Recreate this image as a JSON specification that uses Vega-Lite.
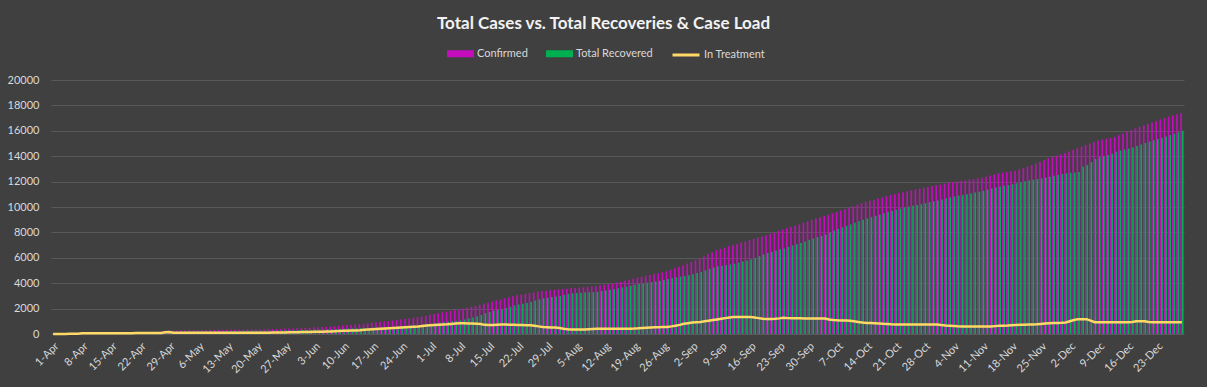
{
"$schema":"https://vega.github.io/schema/vega-lite/v6.json",
"width":1133,"height":254,
"autosize":{"type":"none"},
"padding":{"left":51,"top":80,"right":23,"bottom":53},
"background":"#404040",
"title":{"text":"Total Cases vs. Total Recoveries & Case Load","font":"Lato","fontSize":17,"fontWeight":"bold","color":"#f2f2f2","anchor":"middle","dx":-14,"baseline":"alphabetic","offset":-6},
"config":{"view":{"stroke":null},"font":"Lato"},
"data":{"values":[
{"d":"1-Apr","c":3,"r":0,"t":3},
{"d":"2-Apr","c":5,"r":0,"t":5},
{"d":"3-Apr","c":6,"r":0,"t":6},
{"d":"4-Apr","c":8,"r":0,"t":8},
{"d":"5-Apr","c":10,"r":0,"t":10},
{"d":"6-Apr","c":12,"r":0,"t":12},
{"d":"7-Apr","c":14,"r":0,"t":14},
{"d":"8-Apr","c":60,"r":5,"t":55},
{"d":"9-Apr","c":62,"r":7,"t":55},
{"d":"10-Apr","c":65,"r":9,"t":56},
{"d":"11-Apr","c":68,"r":11,"t":57},
{"d":"12-Apr","c":70,"r":12,"t":58},
{"d":"13-Apr","c":75,"r":17,"t":58},
{"d":"14-Apr","c":80,"r":20,"t":60},
{"d":"15-Apr","c":95,"r":33,"t":62},
{"d":"16-Apr","c":100,"r":36,"t":64},
{"d":"17-Apr","c":105,"r":41,"t":64},
{"d":"18-Apr","c":110,"r":45,"t":65},
{"d":"19-Apr","c":120,"r":54,"t":66},
{"d":"20-Apr","c":130,"r":62,"t":68},
{"d":"21-Apr","c":140,"r":70,"t":70},
{"d":"22-Apr","c":150,"r":78,"t":72},
{"d":"23-Apr","c":155,"r":83,"t":72},
{"d":"24-Apr","c":160,"r":86,"t":74},
{"d":"25-Apr","c":165,"r":90,"t":75},
{"d":"26-Apr","c":170,"r":90,"t":80},
{"d":"27-Apr","c":180,"r":95,"t":85},
{"d":"28-Apr","c":230,"r":100,"t":130},
{"d":"29-Apr","c":255,"r":100,"t":155},
{"d":"30-Apr","c":262,"r":170,"t":92},
{"d":"1-May","c":270,"r":178,"t":92},
{"d":"2-May","c":280,"r":185,"t":95},
{"d":"3-May","c":290,"r":195,"t":95},
{"d":"4-May","c":298,"r":202,"t":96},
{"d":"5-May","c":305,"r":209,"t":96},
{"d":"6-May","c":310,"r":215,"t":95},
{"d":"7-May","c":315,"r":221,"t":94},
{"d":"8-May","c":318,"r":224,"t":94},
{"d":"9-May","c":320,"r":227,"t":93},
{"d":"10-May","c":323,"r":231,"t":92},
{"d":"11-May","c":326,"r":234,"t":92},
{"d":"12-May","c":328,"r":236,"t":92},
{"d":"13-May","c":330,"r":238,"t":92},
{"d":"14-May","c":333,"r":240,"t":93},
{"d":"15-May","c":336,"r":243,"t":93},
{"d":"16-May","c":340,"r":246,"t":94},
{"d":"17-May","c":343,"r":248,"t":95},
{"d":"18-May","c":346,"r":251,"t":95},
{"d":"19-May","c":350,"r":254,"t":96},
{"d":"20-May","c":353,"r":256,"t":97},
{"d":"21-May","c":356,"r":258,"t":98},
{"d":"22-May","c":360,"r":260,"t":100},
{"d":"23-May","c":370,"r":265,"t":105},
{"d":"24-May","c":385,"r":275,"t":110},
{"d":"25-May","c":400,"r":285,"t":115},
{"d":"26-May","c":410,"r":290,"t":120},
{"d":"27-May","c":420,"r":295,"t":125},
{"d":"28-May","c":430,"r":300,"t":130},
{"d":"29-May","c":440,"r":300,"t":140},
{"d":"30-May","c":450,"r":305,"t":145},
{"d":"31-May","c":460,"r":310,"t":150},
{"d":"1-Jun","c":480,"r":320,"t":155},
{"d":"2-Jun","c":500,"r":335,"t":160},
{"d":"3-Jun","c":520,"r":345,"t":170},
{"d":"4-Jun","c":535,"r":350,"t":180},
{"d":"5-Jun","c":550,"r":360,"t":185},
{"d":"6-Jun","c":570,"r":375,"t":190},
{"d":"7-Jun","c":590,"r":385,"t":200},
{"d":"8-Jun","c":610,"r":385,"t":220},
{"d":"9-Jun","c":640,"r":395,"t":240},
{"d":"10-Jun","c":680,"r":415,"t":260},
{"d":"11-Jun","c":700,"r":430,"t":265},
{"d":"12-Jun","c":720,"r":445,"t":270},
{"d":"13-Jun","c":745,"r":460,"t":280},
{"d":"14-Jun","c":770,"r":465,"t":300},
{"d":"15-Jun","c":800,"r":465,"t":330},
{"d":"16-Jun","c":830,"r":465,"t":360},
{"d":"17-Jun","c":900,"r":515,"t":380},
{"d":"18-Jun","c":930,"r":525,"t":400},
{"d":"19-Jun","c":960,"r":535,"t":420},
{"d":"20-Jun","c":990,"r":545,"t":440},
{"d":"21-Jun","c":1020,"r":555,"t":460},
{"d":"22-Jun","c":1060,"r":575,"t":480},
{"d":"23-Jun","c":1100,"r":595,"t":500},
{"d":"24-Jun","c":1150,"r":625,"t":520},
{"d":"25-Jun","c":1190,"r":645,"t":540},
{"d":"26-Jun","c":1230,"r":665,"t":560},
{"d":"27-Jun","c":1270,"r":685,"t":580},
{"d":"28-Jun","c":1320,"r":715,"t":600},
{"d":"29-Jun","c":1380,"r":745,"t":630},
{"d":"30-Jun","c":1450,"r":785,"t":660},
{"d":"1-Jul","c":1520,"r":820,"t":680},
{"d":"2-Jul","c":1580,"r":860,"t":700},
{"d":"3-Jul","c":1640,"r":900,"t":720},
{"d":"4-Jul","c":1700,"r":940,"t":740},
{"d":"5-Jul","c":1760,"r":980,"t":760},
{"d":"6-Jul","c":1820,"r":1010,"t":790},
{"d":"7-Jul","c":1880,"r":1040,"t":820},
{"d":"8-Jul","c":1950,"r":1080,"t":850},
{"d":"9-Jul","c":2000,"r":1140,"t":840},
{"d":"10-Jul","c":2070,"r":1220,"t":830},
{"d":"11-Jul","c":2140,"r":1300,"t":820},
{"d":"12-Jul","c":2210,"r":1390,"t":800},
{"d":"13-Jul","c":2300,"r":1500,"t":780},
{"d":"14-Jul","c":2380,"r":1640,"t":720},
{"d":"15-Jul","c":2450,"r":1730,"t":700},
{"d":"16-Jul","c":2560,"r":1840,"t":700},
{"d":"17-Jul","c":2650,"r":1900,"t":730},
{"d":"18-Jul","c":2700,"r":1930,"t":750},
{"d":"19-Jul","c":2800,"r":2040,"t":740},
{"d":"20-Jul","c":2900,"r":2150,"t":730},
{"d":"21-Jul","c":2980,"r":2240,"t":720},
{"d":"22-Jul","c":3050,"r":2320,"t":710},
{"d":"23-Jul","c":3100,"r":2380,"t":700},
{"d":"24-Jul","c":3150,"r":2440,"t":690},
{"d":"25-Jul","c":3220,"r":2520,"t":680},
{"d":"26-Jul","c":3300,"r":2630,"t":650},
{"d":"27-Jul","c":3340,"r":2720,"t":600},
{"d":"28-Jul","c":3380,"r":2800,"t":560},
{"d":"29-Jul","c":3410,"r":2850,"t":540},
{"d":"30-Jul","c":3450,"r":2910,"t":520},
{"d":"31-Jul","c":3480,"r":2950,"t":510},
{"d":"1-Aug","c":3510,"r":3000,"t":470},
{"d":"2-Aug","c":3540,"r":3080,"t":420},
{"d":"3-Aug","c":3570,"r":3150,"t":380},
{"d":"4-Aug","c":3600,"r":3200,"t":360},
{"d":"5-Aug","c":3630,"r":3230,"t":355},
{"d":"6-Aug","c":3650,"r":3250,"t":355},
{"d":"7-Aug","c":3680,"r":3270,"t":360},
{"d":"8-Aug","c":3710,"r":3290,"t":380},
{"d":"9-Aug","c":3740,"r":3300,"t":400},
{"d":"10-Aug","c":3780,"r":3330,"t":405},
{"d":"11-Aug","c":3830,"r":3380,"t":410},
{"d":"12-Aug","c":3880,"r":3430,"t":410},
{"d":"13-Aug","c":3930,"r":3480,"t":410},
{"d":"14-Aug","c":3980,"r":3530,"t":410},
{"d":"15-Aug","c":4050,"r":3600,"t":410},
{"d":"16-Aug","c":4120,"r":3670,"t":410},
{"d":"17-Aug","c":4190,"r":3730,"t":415},
{"d":"18-Aug","c":4270,"r":3800,"t":420},
{"d":"19-Aug","c":4360,"r":3880,"t":430},
{"d":"20-Aug","c":4430,"r":3930,"t":450},
{"d":"21-Aug","c":4500,"r":3970,"t":480},
{"d":"22-Aug","c":4580,"r":4030,"t":500},
{"d":"23-Aug","c":4650,"r":4080,"t":520},
{"d":"24-Aug","c":4720,"r":4140,"t":530},
{"d":"25-Aug","c":4790,"r":4200,"t":540},
{"d":"26-Aug","c":4860,"r":4260,"t":550},
{"d":"27-Aug","c":4940,"r":4330,"t":560},
{"d":"28-Aug","c":5050,"r":4400,"t":600},
{"d":"29-Aug","c":5170,"r":4470,"t":650},
{"d":"30-Aug","c":5290,"r":4520,"t":720},
{"d":"31-Aug","c":5410,"r":4560,"t":800},
{"d":"1-Sep","c":5550,"r":4620,"t":850},
{"d":"2-Sep","c":5680,"r":4700,"t":900},
{"d":"3-Sep","c":5810,"r":4800,"t":930},
{"d":"4-Sep","c":5940,"r":4900,"t":950},
{"d":"5-Sep","c":6110,"r":5010,"t":1000},
{"d":"6-Sep","c":6280,"r":5130,"t":1050},
{"d":"7-Sep","c":6440,"r":5240,"t":1100},
{"d":"8-Sep","c":6600,"r":5330,"t":1150},
{"d":"9-Sep","c":6700,"r":5380,"t":1200},
{"d":"10-Sep","c":6800,"r":5430,"t":1250},
{"d":"11-Sep","c":6900,"r":5480,"t":1300},
{"d":"12-Sep","c":6990,"r":5540,"t":1330},
{"d":"13-Sep","c":7090,"r":5620,"t":1340},
{"d":"14-Sep","c":7190,"r":5700,"t":1340},
{"d":"15-Sep","c":7290,"r":5780,"t":1335},
{"d":"16-Sep","c":7390,"r":5860,"t":1330},
{"d":"17-Sep","c":7490,"r":5980,"t":1300},
{"d":"18-Sep","c":7590,"r":6120,"t":1250},
{"d":"19-Sep","c":7690,"r":6270,"t":1200},
{"d":"20-Sep","c":7780,"r":6380,"t":1180},
{"d":"21-Sep","c":7890,"r":6480,"t":1190},
{"d":"22-Sep","c":8000,"r":6580,"t":1200},
{"d":"23-Sep","c":8120,"r":6670,"t":1230},
{"d":"24-Sep","c":8230,"r":6730,"t":1280},
{"d":"25-Sep","c":8330,"r":6860,"t":1250},
{"d":"26-Sep","c":8430,"r":6970,"t":1240},
{"d":"27-Sep","c":8530,"r":7070,"t":1240},
{"d":"28-Sep","c":8630,"r":7170,"t":1240},
{"d":"29-Sep","c":8750,"r":7290,"t":1230},
{"d":"30-Sep","c":8870,"r":7410,"t":1230},
{"d":"1-Oct","c":8990,"r":7520,"t":1225},
{"d":"2-Oct","c":9100,"r":7630,"t":1220},
{"d":"3-Oct","c":9200,"r":7730,"t":1220},
{"d":"4-Oct","c":9300,"r":7830,"t":1215},
{"d":"5-Oct","c":9400,"r":7990,"t":1150},
{"d":"6-Oct","c":9500,"r":8140,"t":1100},
{"d":"7-Oct","c":9610,"r":8270,"t":1080},
{"d":"8-Oct","c":9720,"r":8390,"t":1070},
{"d":"9-Oct","c":9830,"r":8510,"t":1060},
{"d":"10-Oct","c":9940,"r":8630,"t":1050},
{"d":"11-Oct","c":10060,"r":8760,"t":1000},
{"d":"12-Oct","c":10180,"r":8880,"t":950},
{"d":"13-Oct","c":10290,"r":9000,"t":900},
{"d":"14-Oct","c":10400,"r":9110,"t":870},
{"d":"15-Oct","c":10490,"r":9200,"t":860},
{"d":"16-Oct","c":10580,"r":9300,"t":850},
{"d":"17-Oct","c":10670,"r":9400,"t":830},
{"d":"18-Oct","c":10760,"r":9500,"t":800},
{"d":"19-Oct","c":10850,"r":9600,"t":780},
{"d":"20-Oct","c":10940,"r":9700,"t":760},
{"d":"21-Oct","c":11020,"r":9790,"t":755},
{"d":"22-Oct","c":11100,"r":9870,"t":755},
{"d":"23-Oct","c":11170,"r":9950,"t":755},
{"d":"24-Oct","c":11240,"r":10020,"t":755},
{"d":"25-Oct","c":11320,"r":10090,"t":755},
{"d":"26-Oct","c":11390,"r":10150,"t":755},
{"d":"27-Oct","c":11450,"r":10220,"t":755},
{"d":"28-Oct","c":11520,"r":10300,"t":755},
{"d":"29-Oct","c":11580,"r":10380,"t":755},
{"d":"30-Oct","c":11650,"r":10450,"t":750},
{"d":"31-Oct","c":11710,"r":10520,"t":740},
{"d":"1-Nov","c":11770,"r":10600,"t":700},
{"d":"2-Nov","c":11840,"r":10680,"t":670},
{"d":"3-Nov","c":11910,"r":10760,"t":650},
{"d":"4-Nov","c":11960,"r":10830,"t":630},
{"d":"5-Nov","c":12010,"r":10890,"t":610},
{"d":"6-Nov","c":12060,"r":10950,"t":600},
{"d":"7-Nov","c":12100,"r":11000,"t":600},
{"d":"8-Nov","c":12150,"r":11070,"t":595},
{"d":"9-Nov","c":12200,"r":11140,"t":590},
{"d":"10-Nov","c":12260,"r":11210,"t":590},
{"d":"11-Nov","c":12310,"r":11280,"t":590},
{"d":"12-Nov","c":12390,"r":11370,"t":590},
{"d":"13-Nov","c":12480,"r":11450,"t":600},
{"d":"14-Nov","c":12560,"r":11540,"t":620},
{"d":"15-Nov","c":12650,"r":11620,"t":640},
{"d":"16-Nov","c":12700,"r":11680,"t":650},
{"d":"17-Nov","c":12750,"r":11730,"t":660},
{"d":"18-Nov","c":12800,"r":11800,"t":680},
{"d":"19-Nov","c":12860,"r":11870,"t":700},
{"d":"20-Nov","c":12950,"r":11940,"t":720},
{"d":"21-Nov","c":13060,"r":12020,"t":730},
{"d":"22-Nov","c":13190,"r":12100,"t":740},
{"d":"23-Nov","c":13310,"r":12150,"t":750},
{"d":"24-Nov","c":13430,"r":12200,"t":760},
{"d":"25-Nov","c":13560,"r":12250,"t":790},
{"d":"26-Nov","c":13700,"r":12310,"t":820},
{"d":"27-Nov","c":13840,"r":12390,"t":850},
{"d":"28-Nov","c":13940,"r":12460,"t":860},
{"d":"29-Nov","c":14040,"r":12520,"t":870},
{"d":"30-Nov","c":14140,"r":12600,"t":880},
{"d":"1-Dec","c":14240,"r":12660,"t":900},
{"d":"2-Dec","c":14370,"r":12700,"t":1000},
{"d":"3-Dec","c":14500,"r":12720,"t":1100},
{"d":"4-Dec","c":14630,"r":12760,"t":1170},
{"d":"5-Dec","c":14760,"r":13180,"t":1170},
{"d":"6-Dec","c":14880,"r":13300,"t":1170},
{"d":"7-Dec","c":15000,"r":13550,"t":1050},
{"d":"8-Dec","c":15120,"r":13780,"t":930},
{"d":"9-Dec","c":15230,"r":13920,"t":930},
{"d":"10-Dec","c":15300,"r":14000,"t":930},
{"d":"11-Dec","c":15370,"r":14100,"t":930},
{"d":"12-Dec","c":15440,"r":14200,"t":930},
{"d":"13-Dec","c":15500,"r":14360,"t":930},
{"d":"14-Dec","c":15650,"r":14450,"t":930},
{"d":"15-Dec","c":15800,"r":14520,"t":930},
{"d":"16-Dec","c":15940,"r":14600,"t":930},
{"d":"17-Dec","c":16080,"r":14680,"t":940},
{"d":"18-Dec","c":16200,"r":14800,"t":1000},
{"d":"19-Dec","c":16320,"r":14920,"t":1010},
{"d":"20-Dec","c":16440,"r":15040,"t":1000},
{"d":"21-Dec","c":16550,"r":15150,"t":950},
{"d":"22-Dec","c":16660,"r":15250,"t":930},
{"d":"23-Dec","c":16780,"r":15350,"t":930},
{"d":"24-Dec","c":16890,"r":15450,"t":930},
{"d":"25-Dec","c":17000,"r":15550,"t":930},
{"d":"26-Dec","c":17100,"r":15660,"t":930},
{"d":"27-Dec","c":17200,"r":15770,"t":930},
{"d":"28-Dec","c":17300,"r":15880,"t":930},
{"d":"29-Dec","c":17400,"r":16000,"t":930}
]},
"layer":[
{"transform":[{"fold":["c","r"],"as":["series","value"]}],
 "mark":{"type":"bar"},
 "encoding":{
  "x":{"field":"d","type":"ordinal","sort":null,"scale":{"paddingInner":0.2,"paddingOuter":0.1},
   "axis":{"title":null,"labelAngle":-45,"labelColor":"#d9d9d9","labelFontSize":11,"labelFont":"Lato","ticks":false,"domain":false,"grid":false,"labelPadding":6,
   "values":["1-Apr","8-Apr","15-Apr","22-Apr","29-Apr","6-May","13-May","20-May","27-May","3-Jun","10-Jun","17-Jun","24-Jun","1-Jul","8-Jul","15-Jul","22-Jul","29-Jul","5-Aug","12-Aug","19-Aug","26-Aug","2-Sep","9-Sep","16-Sep","23-Sep","30-Sep","7-Oct","14-Oct","21-Oct","28-Oct","4-Nov","11-Nov","18-Nov","25-Nov","2-Dec","9-Dec","16-Dec","23-Dec"]}},
  "xOffset":{"field":"series","sort":["c","r"],"scale":{"paddingInner":0,"paddingOuter":0}},
  "y":{"field":"value","type":"quantitative","scale":{"domain":[0,20000]},
   "axis":{"title":null,"values":[0,2000,4000,6000,8000,10000,12000,14000,16000,18000,20000],"tickCount":20,"labelOverlap":false,"format":"d","grid":true,"gridColor":"#595959","gridWidth":1,"domain":false,"ticks":false,"labelColor":"#d9d9d9","labelFontSize":11,"labelFont":"Lato","labelPadding":12}},
  "fill":{"field":"series","type":"nominal","scale":{"domain":["c","r"],"range":["#C40CBC","#00B050"]},
   "legend":{"orient":"none","legendX":396,"legendY":-40,"direction":"horizontal","title":null,"symbolType":"M-1,-0.26H1V0.26H-1Z","symbolSize":729,"symbolStrokeWidth":0,"labelColor":"#d9d9d9","labelFontSize":11,"labelFont":"Lato","labelOffset":3,"columnPadding":18,"labelExpr":"datum.label == 'c' ? 'Confirmed' : 'Total Recovered'"}}
 }},
{"mark":{"type":"line","strokeWidth":2.5},
 "encoding":{
  "x":{"field":"d","type":"ordinal","sort":null},
  "y":{"field":"t","type":"quantitative"},
  "stroke":{"datum":"In Treatment","type":"nominal","scale":{"range":["#FFD966"]},
   "legend":{"orient":"none","legendX":620,"legendY":-40,"direction":"horizontal","title":null,"symbolType":"stroke","symbolSize":729,"symbolStrokeWidth":3,"labelColor":"#d9d9d9","labelFontSize":11,"labelFont":"Lato","labelOffset":3}}
 }}
]
}
